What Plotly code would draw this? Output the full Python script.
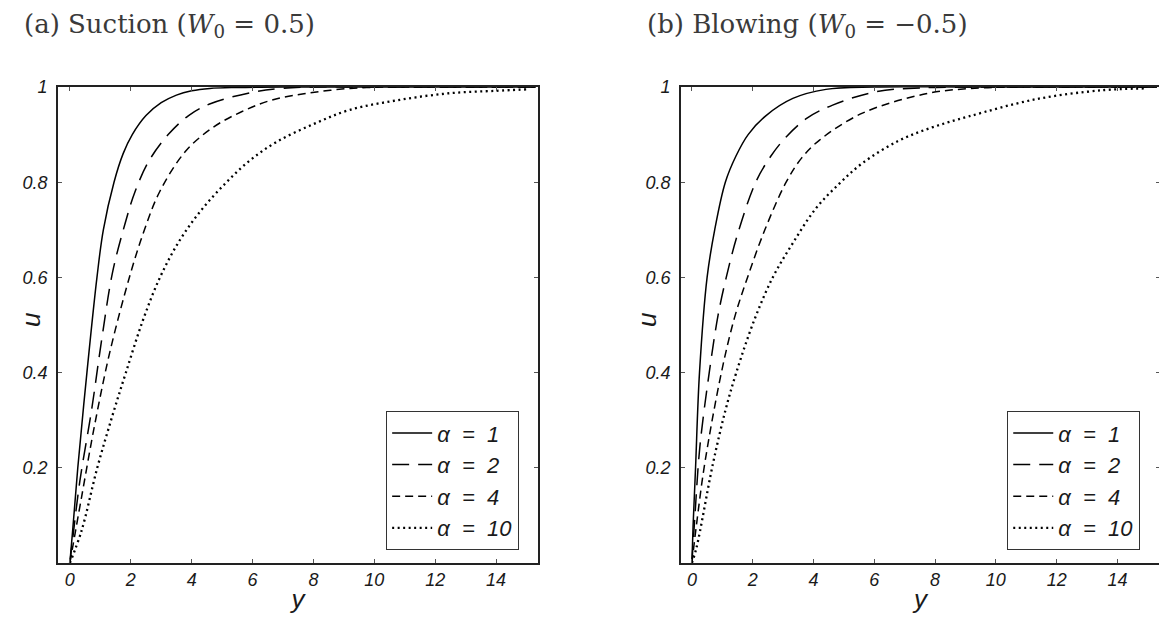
import plotly.graph_objects as go

# ---------------- data ----------------
alpha_labels = ["α\u00a0 =\u00a0 1", "α\u00a0 =\u00a0 2", "α\u00a0 =\u00a0 4", "α\u00a0 =\u00a0 10"]

# (a) Suction, W0 = 0.5
suc_x_a1 = [0, 0.1, 0.26, 0.56, 0.89, 1.1, 1.45, 1.75, 2.05, 2.5, 3.0, 3.5, 4.0, 4.6, 5.5, 7, 10, 15.3]
suc_u_a1 = [0, 0.075, 0.2, 0.4, 0.6, 0.7, 0.8, 0.86, 0.9, 0.94, 0.967, 0.983, 0.992, 0.997, 0.999, 1, 1, 1]
suc_x_a2 = [0, 0.1, 0.33, 0.71, 1.04, 1.4, 1.8, 2.14, 2.6, 3.23, 3.9, 4.66, 6.08, 6.96, 8, 10, 12, 15.3]
suc_u_a2 = [0, 0.055, 0.173, 0.32, 0.467, 0.61, 0.71, 0.78, 0.845, 0.9, 0.94, 0.966, 0.99, 0.997, 1, 1, 1, 1]
suc_x_a4 = [0, 0.38, 0.82, 1.32, 2.0, 2.45, 2.95, 3.8, 4.7, 5.64, 6.6, 7.83, 9.2, 10.5, 12, 15.3]
suc_u_a4 = [0, 0.137, 0.292, 0.445, 0.61, 0.7, 0.78, 0.865, 0.915, 0.948, 0.972, 0.987, 0.997, 1, 1, 1]
suc_x_a10 = [0, 0.38, 0.9, 1.4, 1.84, 2.4, 2.96, 3.6, 4.3, 5.1, 5.9, 6.8, 8.0, 9.2, 10.84, 12.49, 14.0, 15.0]
suc_u_a10 = [0, 0.067, 0.2, 0.31, 0.4, 0.51, 0.6, 0.677, 0.74, 0.797, 0.845, 0.885, 0.922, 0.952, 0.973, 0.987, 0.992, 0.995]

# (b) Blowing, W0 = -0.5
blo_x_a1 = [0, 0.04, 0.12, 0.25, 0.5, 0.75, 1.1, 1.45, 1.85, 2.44, 3.32, 4.41, 6, 9, 12, 15.3]
blo_u_a1 = [0, 0.08, 0.2, 0.4, 0.6, 0.7, 0.8, 0.855, 0.9, 0.94, 0.976, 0.995, 1, 1, 1, 1]
blo_x_a2 = [0, 0.1, 0.26, 0.57, 0.86, 1.13, 1.5, 2.1, 2.6, 3.1, 3.8, 4.63, 6.05, 7.5, 10, 12, 15.3]
blo_u_a2 = [0, 0.1, 0.243, 0.4, 0.52, 0.6, 0.69, 0.8, 0.855, 0.895, 0.935, 0.962, 0.99, 0.998, 1, 1, 1]
blo_x_a4 = [0, 0.15, 0.42, 0.97, 1.4, 1.83, 2.4, 3.1, 3.6, 4.19, 5.61, 7.8, 9.5, 11, 13, 15.3]
blo_u_a4 = [0, 0.08, 0.208, 0.4, 0.515, 0.6, 0.7, 0.8, 0.85, 0.888, 0.945, 0.987, 0.998, 1, 1, 1]
blo_x_a10 = [0, 0.15, 0.69, 1.1, 1.46, 2.05, 2.66, 3.3, 4.08, 4.85, 5.61, 6.8, 7.9, 9.1, 11.29, 13.47, 14.89]
blo_u_a10 = [0, 0.032, 0.208, 0.32, 0.4, 0.51, 0.6, 0.67, 0.745, 0.797, 0.84, 0.887, 0.915, 0.938, 0.974, 0.993, 0.997]

x_ticks = [0, 2, 4, 6, 8, 10, 12, 14]
y_ticks = [0.2, 0.4, 0.6, 0.8, 1.0]
y_tick_text = ["0.2", "0.4", "0.6", "0.8", "1"]

# ---------------- styles ----------------
dash_styles = ["solid", "17px,9px", "8px,5px", "2px,3.5px"]
widths = [1.5, 1.5, 1.5, 2.3]
TXT = "#1a1a1a"
SANS = "Liberation Sans Narrow, Liberation Sans, Arial, sans-serif"
SERIF = "DejaVu Serif, Liberation Serif, serif"

fig = go.Figure()

suction = [(suc_x_a1, suc_u_a1), (suc_x_a2, suc_u_a2), (suc_x_a4, suc_u_a4), (suc_x_a10, suc_u_a10)]
blowing = [(blo_x_a1, blo_u_a1), (blo_x_a2, blo_u_a2), (blo_x_a4, blo_u_a4), (blo_x_a10, blo_u_a10)]

for i, (xs, us) in enumerate(suction):
    fig.add_trace(go.Scatter(x=xs, y=us, mode="lines", name=alpha_labels[i],
                             line=dict(color="black", width=widths[i], dash=dash_styles[i],
                                       shape="spline", smoothing=1.0),
                             xaxis="x", yaxis="y", legend="legend"))
for i, (xs, us) in enumerate(blowing):
    fig.add_trace(go.Scatter(x=xs, y=us, mode="lines", name=alpha_labels[i],
                             line=dict(color="black", width=widths[i], dash=dash_styles[i],
                                       shape="spline", smoothing=1.0),
                             xaxis="x2", yaxis="y2", legend="legend2"))

axis_common = dict(showline=True, linecolor="#222", linewidth=1.6, mirror="ticks",
                   ticks="inside", ticklen=4, tickcolor="#555", showgrid=False, zeroline=False,
                   automargin=False,
                   tickfont=dict(family=SANS, size=18, color=TXT, style="italic"))

title_font = dict(family=SANS, size=26, color=TXT, style="italic")
legend_font = dict(family=SANS, size=22, color=TXT, style="italic")

# page body has an 8px margin: the figure's own margins compensate for it
fig.update_layout(
    width=1167, height=634,
    paper_bgcolor="white", plot_bgcolor="white",
    margin=dict(l=50, r=15, t=79, b=79, autoexpand=False),
    xaxis=dict(domain=[0, 0.4356], range=[-0.39, 15.38], tickvals=x_ticks, anchor="y",
               title=dict(text="y", font=title_font, standoff=0), **axis_common),
    yaxis=dict(domain=[0, 1], range=[0, 1], tickvals=y_ticks, ticktext=y_tick_text, anchor="x",
               ticklabelstandoff=5, **axis_common),
    xaxis2=dict(domain=[0.5653, 1], range=[-0.36, 15.4], tickvals=x_ticks, anchor="y2",
                title=dict(text="y", font=title_font, standoff=0), **axis_common),
    yaxis2=dict(domain=[0, 1], range=[0, 1], tickvals=y_ticks, ticktext=y_tick_text, anchor="x2",
                ticklabelstandoff=5, **axis_common),
    legend=dict(x=0.2976, y=0.3193, xanchor="left", yanchor="top", bgcolor="white",
                bordercolor="#333", borderwidth=1.2, itemwidth=40, font=legend_font),
    legend2=dict(x=0.8612, y=0.3193, xanchor="left", yanchor="top", bgcolor="white",
                 bordercolor="#333", borderwidth=1.2, itemwidth=40, font=legend_font),
    annotations=[
        dict(text="(a) Suction (<i>W</i><sub>0</sub> = 0.5)", xref="paper", yref="paper",
             x=-0.0327, y=1.0, xanchor="left", yanchor="middle", yshift=62, showarrow=False,
             font=dict(family=SERIF, size=26, color="#3a3a3a")),
        dict(text="(b) Blowing (<i>W</i><sub>0</sub> = −0.5)", xref="paper", yref="paper",
             x=0.5326, y=1.0, xanchor="left", yanchor="middle", yshift=62, showarrow=False,
             font=dict(family=SERIF, size=26, color="#3a3a3a")),
        dict(text="u", xref="paper", yref="paper", x=-0.0245, y=0.5105, textangle=-90,
             xanchor="center", yanchor="middle", showarrow=False, font=title_font),
        dict(text="u", xref="paper", yref="paper", x=0.5345, y=0.5105, textangle=-90,
             xanchor="center", yanchor="middle", showarrow=False, font=title_font),
    ],
)

fig.write_html("out.html")
